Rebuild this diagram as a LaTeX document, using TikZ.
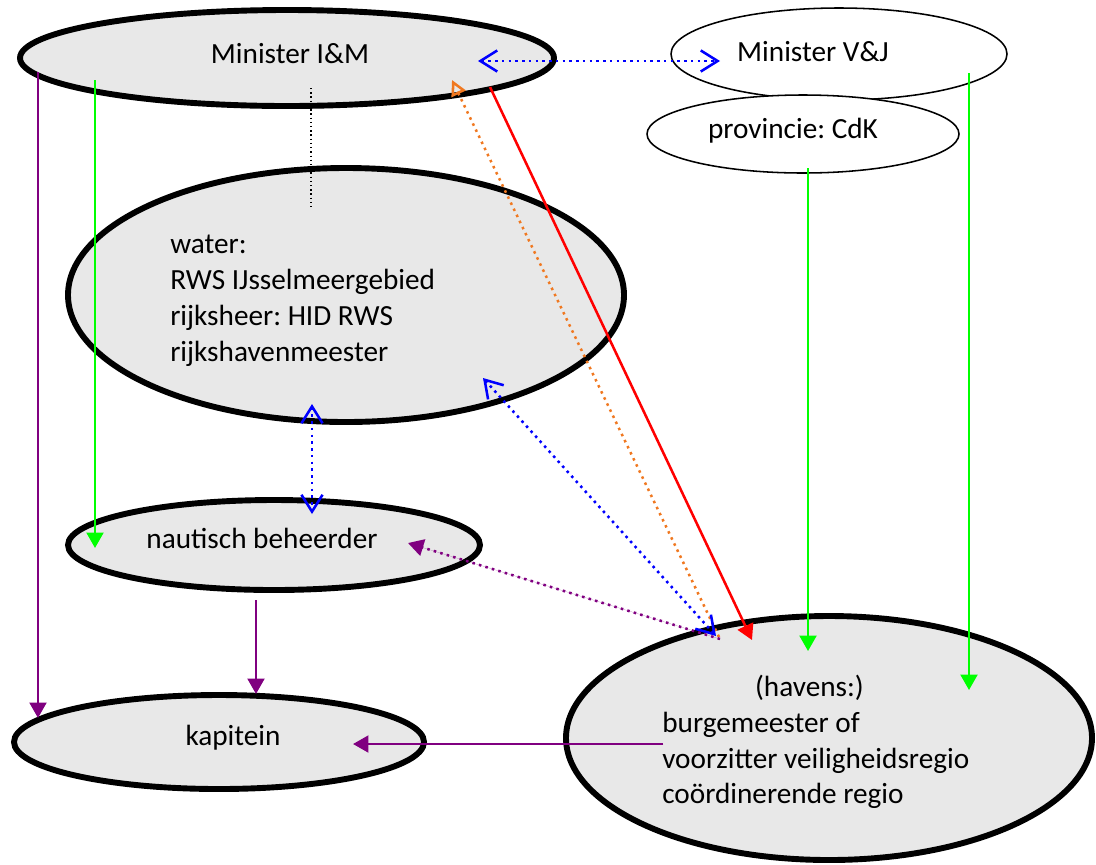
\documentclass[tikz,border=0pt]{standalone}
\usepackage{fontspec}
\setmainfont{Carlito}
\usetikzlibrary{shapes.geometric,arrows.meta}
\definecolor{bubblegray}{HTML}{E8E8E8}
\definecolor{lgreen}{HTML}{00FF00}
\definecolor{dpurple}{HTML}{800080}
\definecolor{dorange}{HTML}{F07820}
\frenchspacing

\begin{document}
\begin{tikzpicture}[x=0.025cm, y=-0.025cm,
    every node/.style={font=\fontsize{20.8}{25.5}\selectfont},
    bubble/.style 2 args={ellipse, draw=black, line width=4.2pt, fill=bubblegray,
                          inner sep=0pt, minimum width={#1*0.025cm}, minimum height={#2*0.025cm}},
    thinbubble/.style 2 args={ellipse, draw=black, line width=1.1pt, fill=white,
                          inner sep=0pt, minimum width={#1*0.025cm}, minimum height={#2*0.025cm}},
    txt/.style={inner sep=0pt, align=left},
    solidarr/.style={line width=1.8pt, -{Triangle[length=11pt,width=12pt]}},
    dotline/.style={line width=1.8pt, dash pattern=on 1.8pt off 3pt},
    barbs/.style={dotline, draw=blue,
                  {Straight Barb[length=12pt,width=15pt]}-{Straight Barb[length=12pt,width=15pt]}}]
  \useasboundingbox (0,0) rectangle (1096,864);

  % ellipses
  \node[bubble={534}{96}] (iam) at (287,58) {};
  \node[thinbubble={336}{92}] (vj) at (839,54) {};
  \node[thinbubble={312}{78}] (prov) at (803,134) {};
  \node[bubble={556}{254}] (water) at (346,295) {};
  \node[bubble={412}{90}] (naut) at (274,545) {};
  \node[bubble={410}{94}] (kap) at (219,742) {};
  \node[bubble={526}{244}] (hav) at (829,738) {};

  % texts
  \node[txt] (iamtxt) at (290,54) {Minister I\&M};
  \node[txt] (vjtxt) at (813,52) {Minister V\&J};
  \node[txt] (provtxt) at (793,131) {provincie: CdK};
  \node[txt, anchor=west] (watertxt) at (170,301)
    {water:\\RWS IJsselmeergebied\\rijksheer: HID RWS\\rijkshavenmeester};
  \node[txt] (nauttxt) at (262,538) {nautisch beheerder};
  \node[txt] (kaptxt) at (233,738) {kapitein};
  \node[txt, anchor=west] (havtxt) at (662,742)
    {\hspace*{66pt}(havens:)\\burgemeester of\\voorzitter veiligheidsregio\\co\"ordinerende regio};

  % connector ends
  \coordinate (vjL) at (478,61);
  \coordinate (vjR) at (720,61);
  \coordinate (iamB) at (311,88);
  \coordinate (waterT) at (311,207);
  \coordinate (iamP) at (38,72);
  \coordinate (kapP) at (38,718);
  \coordinate (iamG) at (95,80);
  \coordinate (nautG) at (95,548);
  \coordinate (provG) at (808,168);
  \coordinate (havG1) at (808,651);
  \coordinate (vjG) at (969,73);
  \coordinate (havG2) at (969,690);
  \coordinate (iamR) at (490,87);
  \coordinate (havR) at (752,640);
  \coordinate (havO) at (719,637);
  \coordinate (iamO) at (452,80);
  \coordinate (waterB) at (483,378);
  \coordinate (havB) at (716,636);
  \coordinate (waterV) at (312,404);
  \coordinate (nautV) at (312,514);
  \coordinate (havP) at (720,639);
  \coordinate (nautP) at (408,543);
  \coordinate (nautD) at (256,600);
  \coordinate (kapD) at (256,694);
  \coordinate (havL) at (663,744);
  \coordinate (kapR) at (353,744);

  % connectors
  \draw[barbs] (vjL) -- (vjR);
  \draw[line width=1pt, dash pattern=on 1pt off 2pt] (iamB) -- (waterT);
  \foreach \s/\e in {iamG/nautG, provG/havG1, vjG/havG2}
    \draw[solidarr, draw=lgreen, fill=lgreen] (\s) -- (\e);
  \foreach \s/\e in {iamP/kapP, nautD/kapD, havL/kapR}
    \draw[solidarr, draw=dpurple, fill=dpurple] (\s) -- (\e);
  \draw[solidarr, draw=red, fill=red] (iamR) -- (havR);
  \draw[dotline, draw=dorange, -{Triangle[open,length=11pt,width=11pt]}] (havO) -- (iamO);
  \draw[barbs] (waterB) -- (havB);
  \draw[barbs] (waterV) -- (nautV);
  \draw[dotline, draw=dpurple, fill=dpurple, -{Triangle[length=11pt,width=12pt]}] (havP) -- (nautP);
\end{tikzpicture}
\end{document}
